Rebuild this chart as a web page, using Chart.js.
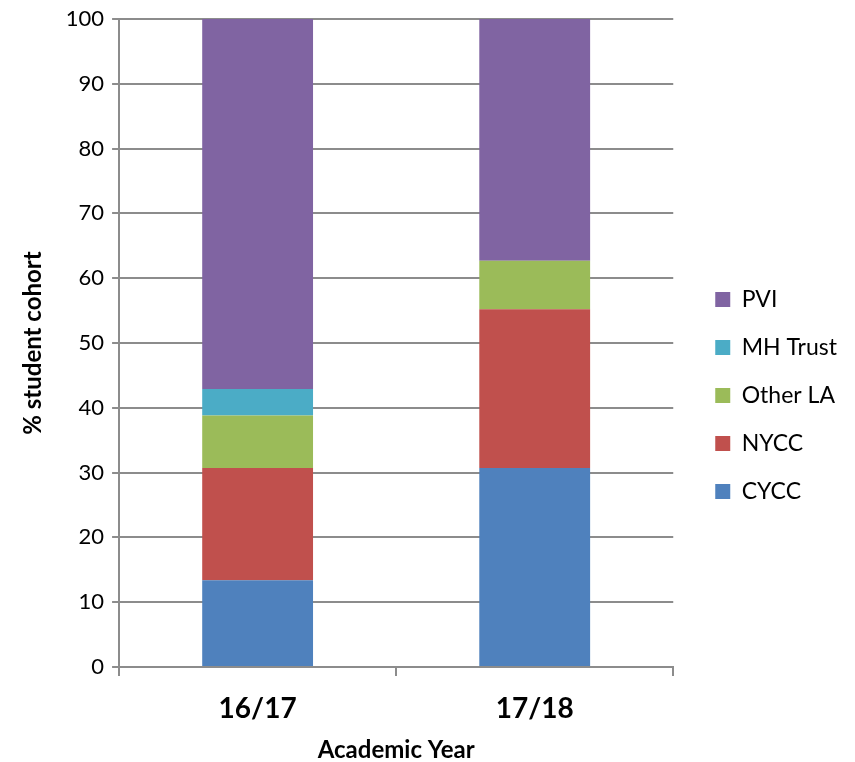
<!DOCTYPE html>
<html>
<head>
<meta charset="utf-8">
<script src="https://cdn.jsdelivr.net/npm/chart.js@4/dist/chart.umd.min.js"></script>
<style>
html,body{margin:0;padding:0;background:#fff;}
#wrap{width:855px;height:762px;}
</style>
</head>
<body>
<div id="wrap"><canvas id="c" width="855" height="762"></canvas></div>
<script>
const categories = ["16/17", "17/18"];
const CYCC = [13.4, 30.7];
const NYCC = [17.3, 24.5];
const OtherLA = [8.1, 7.5];
const MHTrust = [4.1, 0];
const PVI = [57.1, 37.3];
const seriesNames = ["CYCC", "NYCC", "Other LA", "MH Trust", "PVI"];
const seriesColors = ["#4F81BD", "#C0504D", "#9BBB59", "#4BACC6", "#8064A2"];
const seriesData = [CYCC, NYCC, OtherLA, MHTrust, PVI];

const FONT = "Lato, 'Open Sans', sans-serif";
const gridColor = "#8c8c8c";
const LEGEND_GAP = 17;

const legendGapPlugin = {
  id: 'legendGap',
  beforeLayout(chart) {
    const l = chart.legend;
    if (l && !l._gapPatched) {
      const f = l.fit.bind(l);
      l.fit = function () { f(); this.width += LEGEND_GAP; };
      l._gapPatched = true;
    }
  },
  afterLayout(chart) {
    const l = chart.legend;
    if (l) { l.left += LEGEND_GAP; }
  }
};

new Chart(document.getElementById('c'), {
  type: 'bar',
  data: {
    labels: categories,
    datasets: seriesNames.map((n, i) => ({
      label: n,
      data: seriesData[i],
      backgroundColor: seriesColors[i],
      borderWidth: 0,
      barPercentage: 0.4,
      categoryPercentage: 1.0
    }))
  },
  plugins: [legendGapPlugin],
  options: {
    responsive: false,
    animation: false,
    devicePixelRatio: 1,
    layout: { padding: { top: 0, left: 19, right: 8, bottom: 0 } },
    plugins: {
      tooltip: { enabled: false },
      legend: {
        position: 'right',
        reverse: true,
        title: { display: true, text: '', font: { size: 10 }, padding: { top: 17, bottom: 0 } },
        labels: {
          boxWidth: 15,
          boxHeight: 15,
          padding: 25,
          color: '#000',
          font: { family: FONT, size: 23 }
        }
      }
    },
    scales: {
      x: {
        stacked: true,
        grid: { color: gridColor, lineWidth: 2, drawOnChartArea: false, drawTicks: true, tickLength: 9, offset: true },
        border: { color: gridColor, width: 2 },
        ticks: { color: '#000', font: { family: FONT, size: 28, weight: 'bold' }, padding: 16 },
        title: { display: true, text: 'Academic Year', color: '#000', font: { family: FONT, size: 24, weight: 'bold', lineHeight: 1.0 }, padding: { top: 6, bottom: 0 } },
        afterFit: function (scale) { scale.height = 95; }
      },
      y: {
        stacked: true,
        min: 0, max: 100,
        grid: { color: gridColor, lineWidth: 2, tickLength: 7 },
        border: { color: gridColor, width: 2 },
        ticks: { stepSize: 10, color: '#000', font: { family: FONT, size: 22, lineHeight: 1.0 }, padding: 8 },
        title: { display: true, text: '% student cohort', color: '#000', font: { family: FONT, size: 24, weight: 'bold' }, padding: { top: 0, bottom: 10 } }
      }
    }
  }
});
</script>
</body>
</html>
